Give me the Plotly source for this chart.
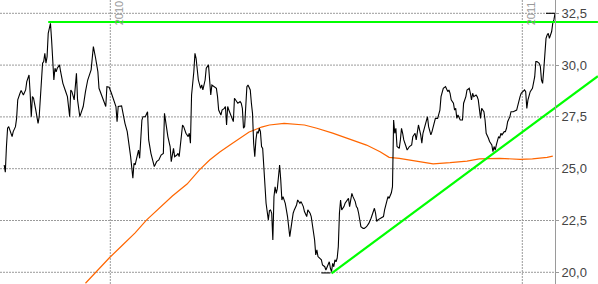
import plotly.graph_objects as go

# ---------------- data ----------------
price_dates = [
    "2009-09-29","2009-09-30","2009-10-01","2009-10-02","2009-10-03","2009-10-05","2009-10-06","2009-10-07",
    "2009-10-09","2009-10-10","2009-10-11","2009-10-13","2009-10-14","2009-10-16","2009-10-18","2009-10-19",
    "2009-10-21","2009-10-22","2009-10-23","2009-10-24","2009-10-25","2009-10-27","2009-10-28","2009-10-29",
    "2009-10-30","2009-10-31","2009-11-02","2009-11-03","2009-11-04","2009-11-05","2009-11-06","2009-11-07",
    "2009-11-08","2009-11-09","2009-11-10","2009-11-11","2009-11-12","2009-11-13","2009-11-14","2009-11-15",
    "2009-11-17","2009-11-18","2009-11-20","2009-11-22","2009-11-24","2009-11-26","2009-11-27","2009-11-28",
    "2009-11-30","2009-12-02","2009-12-03","2009-12-05","2009-12-06","2009-12-08","2009-12-10","2009-12-12",
    "2009-12-15","2009-12-16","2009-12-17","2009-12-19","2009-12-21","2009-12-22","2009-12-24","2009-12-26",
    "2009-12-28","2009-12-29","2009-12-31","2010-01-02","2010-01-04","2010-01-06","2010-01-07","2010-01-08",
    "2010-01-11","2010-01-12","2010-01-14","2010-01-16","2010-01-18","2010-01-19","2010-01-21","2010-01-22",
    "2010-01-23","2010-01-25","2010-01-26","2010-01-27","2010-01-29","2010-01-30","2010-02-01","2010-02-03",
    "2010-02-04","2010-02-06","2010-02-08","2010-02-09","2010-02-11","2010-02-13","2010-02-15","2010-02-17",
    "2010-02-18","2010-02-20","2010-02-21","2010-02-23","2010-02-24","2010-02-26","2010-02-27","2010-03-01",
    "2010-03-02","2010-03-03","2010-03-04","2010-03-06","2010-03-07","2010-03-09","2010-03-11","2010-03-12",
    "2010-03-13","2010-03-14","2010-03-16","2010-03-17","2010-03-18","2010-03-19","2010-03-20","2010-03-22",
    "2010-03-23","2010-03-24","2010-03-26","2010-03-27","2010-03-29","2010-03-30","2010-03-31","2010-04-01",
    "2010-04-03","2010-04-05","2010-04-06","2010-04-07","2010-04-09","2010-04-10","2010-04-12","2010-04-13",
    "2010-04-14","2010-04-15","2010-04-16","2010-04-18","2010-04-19","2010-04-20","2010-04-21","2010-04-23",
    "2010-04-24","2010-04-26","2010-04-27","2010-04-28","2010-04-29","2010-04-30","2010-05-01","2010-05-02",
    "2010-05-03","2010-05-05","2010-05-06","2010-05-07","2010-05-08","2010-05-09","2010-05-10","2010-05-11",
    "2010-05-12","2010-05-13","2010-05-14","2010-05-15","2010-05-16","2010-05-17","2010-05-18","2010-05-19",
    "2010-05-21","2010-05-22","2010-05-23","2010-05-24","2010-05-25","2010-05-26","2010-05-27","2010-05-28",
    "2010-05-29","2010-05-30","2010-05-31","2010-06-01","2010-06-02","2010-06-03","2010-06-05","2010-06-06",
    "2010-06-07","2010-06-09","2010-06-10","2010-06-11","2010-06-12","2010-06-13","2010-06-15","2010-06-16",
    "2010-06-18","2010-06-19","2010-06-21","2010-06-22","2010-06-24","2010-06-25","2010-06-27","2010-06-28",
    "2010-06-30","2010-07-01","2010-07-02","2010-07-03","2010-07-04","2010-07-06","2010-07-07","2010-07-08",
    "2010-07-10","2010-07-11","2010-07-12","2010-07-14","2010-07-15","2010-07-16","2010-07-17","2010-07-18",
    "2010-07-19","2010-07-20","2010-07-21","2010-07-22","2010-07-23","2010-07-24","2010-07-25","2010-07-26",
    "2010-07-27","2010-07-28","2010-07-30","2010-07-31","2010-08-01","2010-08-02","2010-08-03","2010-08-04",
    "2010-08-06","2010-08-07","2010-08-08","2010-08-09","2010-08-10","2010-08-11","2010-08-13","2010-08-14",
    "2010-08-16","2010-08-18","2010-08-20","2010-08-22","2010-08-23","2010-08-24","2010-08-25","2010-08-26",
    "2010-08-29","2010-08-31","2010-09-01","2010-09-03","2010-09-04","2010-09-05","2010-09-07","2010-09-08",
    "2010-09-09","2010-09-10","2010-09-11","2010-09-12","2010-09-14","2010-09-15","2010-09-16","2010-09-17",
    "2010-09-18","2010-09-20","2010-09-21","2010-09-23","2010-09-25","2010-09-26","2010-09-28","2010-09-29",
    "2010-09-30","2010-10-01","2010-10-03","2010-10-04","2010-10-05","2010-10-07","2010-10-08","2010-10-09",
    "2010-10-10","2010-10-12","2010-10-13","2010-10-15","2010-10-16","2010-10-18","2010-10-19","2010-10-20",
    "2010-10-21","2010-10-23","2010-10-25","2010-10-27","2010-10-28","2010-10-29","2010-10-30","2010-11-01",
    "2010-11-02","2010-11-03","2010-11-04","2010-11-05","2010-11-07","2010-11-09","2010-11-10","2010-11-12",
    "2010-11-13","2010-11-15","2010-11-16","2010-11-17","2010-11-18","2010-11-19","2010-11-21","2010-11-22",
    "2010-11-23","2010-11-24","2010-11-25","2010-11-26","2010-11-28","2010-11-29","2010-11-30","2010-12-02",
    "2010-12-03","2010-12-05","2010-12-06","2010-12-07","2010-12-08","2010-12-09","2010-12-11","2010-12-12",
    "2010-12-13","2010-12-14","2010-12-16","2010-12-17","2010-12-18","2010-12-19","2010-12-21","2010-12-22",
    "2010-12-24","2010-12-27","2010-12-28","2010-12-30","2010-12-31","2011-01-02","2011-01-03","2011-01-04",
    "2011-01-05","2011-01-06","2011-01-07","2011-01-08","2011-01-10","2011-01-11","2011-01-12","2011-01-13",
    "2011-01-14","2011-01-16","2011-01-17","2011-01-18","2011-01-19","2011-01-20","2011-01-21","2011-01-22",
    "2011-01-23","2011-01-24","2011-01-25","2011-01-26","2011-01-27","2011-01-28","2011-01-29","2011-01-30",
]
price_values = [
    25.18,24.83,26.07,26.95,27.03,26.71,26.55,26.79,
    27.03,27.43,28.32,28.64,28.77,28.56,28.80,29.20,
    29.52,28.64,27.51,28.48,28.40,27.83,27.35,27.19,
    27.51,28.48,30.09,30.17,30.57,30.09,30.41,31.53,
    31.86,32.02,31.21,29.93,29.28,29.85,29.68,29.85,
    30.01,29.68,29.12,28.80,28.48,27.51,28.80,28.72,
    28.32,29.60,28.32,27.51,27.67,28.00,28.72,29.28,
    29.77,30.25,30.89,30.33,29.68,28.88,28.56,28.32,
    28.00,28.96,28.93,28.64,28.32,28.00,27.27,28.00,
    28.03,27.67,27.19,26.79,26.07,25.58,24.54,25.26,
    25.18,25.66,25.90,25.50,27.35,27.51,27.51,27.75,
    26.39,25.74,25.26,25.10,25.34,25.42,25.66,25.74,
    27.67,26.87,26.55,26.07,25.34,25.98,25.58,25.66,
    25.74,25.58,26.23,27.11,27.03,26.71,26.55,26.71,
    26.23,28.56,29.68,30.57,30.33,29.68,29.28,28.88,
    29.04,28.80,29.28,29.85,30.01,29.28,28.56,29.04,
    28.96,28.88,28.48,27.83,27.59,27.83,27.91,28.00,
    27.11,28.00,27.83,27.59,27.43,27.27,28.40,28.24,
    28.16,28.24,28.16,27.91,26.95,27.03,28.32,28.96,
    29.04,28.80,28.16,27.67,26.23,25.58,26.39,26.79,
    26.71,26.95,26.79,26.07,25.98,25.18,23.97,23.33,
    22.53,22.98,23.01,22.85,21.56,23.65,24.13,23.81,
    24.05,24.54,25.18,24.46,23.49,23.65,23.33,23.01,
    22.69,21.72,22.20,22.53,22.85,23.01,23.25,23.49,
    23.33,23.41,23.17,22.93,22.69,23.01,22.85,22.69,
    22.04,21.56,20.84,21.08,20.76,20.68,20.60,20.35,
    20.27,20.11,20.27,20.51,20.19,20.03,20.43,20.27,
    20.60,20.51,20.68,21.24,22.85,23.49,23.01,23.09,
    23.17,23.33,23.49,23.57,23.17,23.49,23.81,23.65,
    23.41,23.17,23.09,22.85,22.45,22.20,22.12,22.12,
    22.20,22.36,22.61,23.01,23.09,22.85,22.45,22.53,
    22.61,22.69,23.01,23.49,23.65,23.57,23.84,24.13,
    27.35,26.71,26.95,26.07,25.98,26.39,26.95,26.71,
    26.39,26.07,25.90,26.07,26.15,26.55,26.71,26.39,
    26.87,27.11,26.63,26.23,26.71,27.19,27.35,27.51,
    27.03,26.63,26.79,27.19,27.43,27.43,27.59,27.83,
    28.48,28.88,28.96,28.72,28.80,28.64,28.32,28.16,
    27.83,27.91,27.43,27.59,27.35,27.35,28.16,28.48,
    28.80,28.88,28.64,28.32,28.64,28.48,28.56,28.48,
    28.32,27.83,27.43,27.91,27.75,27.35,26.71,26.47,
    26.31,26.15,25.82,26.07,25.90,26.15,26.55,26.47,
    26.71,26.63,26.79,26.79,26.95,27.27,27.51,27.75,
    27.75,27.83,28.08,28.48,28.64,28.72,28.80,28.72,
    27.91,28.32,28.48,28.72,28.88,29.12,29.44,30.17,
    30.17,30.09,29.93,29.28,29.12,29.77,30.65,31.29,
    31.45,31.53,31.29,31.45,31.62,32.02,32.18,32.50,
]

ma_dates = [
    "2009-12-10","2009-12-21","2009-12-31","2010-01-11","2010-01-23","2010-02-02","2010-02-14","2010-02-25",
    "2010-03-10","2010-03-21","2010-03-30","2010-04-08","2010-04-17","2010-04-26","2010-05-04","2010-05-15",
    "2010-05-22","2010-06-04","2010-06-22","2010-07-03","2010-07-17","2010-08-01","2010-08-16","2010-08-28",
    "2010-09-05","2010-09-14","2010-09-23","2010-10-02","2010-10-14","2010-10-29","2010-11-13","2010-11-24",
    "2010-12-12","2010-12-30","2011-01-10","2011-01-23","2011-01-28",
]
ma_values = [
    19.47,20.11,20.69,21.27,21.90,22.52,23.10,23.68,
    24.26,24.94,25.42,25.81,26.14,26.48,26.77,27.01,
    27.11,27.19,27.11,26.95,26.72,26.43,26.14,25.82,
    25.55,25.50,25.42,25.31,25.23,25.29,25.37,25.47,
    25.50,25.45,25.47,25.55,25.61,
]

# green trend lines (resistance and support)
resistance_dates = ["2009-11-07", "2011-03-09"]
resistance_values = [32.08, 32.08]
support_dates = ["2010-07-16", "2011-03-09"]
support_values = [19.95, 29.47]

# small horizontal markers at the extreme high / low
high_mark_dates = ["2011-01-22", "2011-01-31"]
high_mark_values = [32.5, 32.5]
low_mark_dates = ["2010-07-07", "2010-07-15"]
low_mark_values = [19.97, 19.97]

y_ticks = [20.0, 22.5, 25.0, 27.5, 30.0, 32.5]
y_tick_labels = ["20,0", "22,5", "25,0", "27,5", "30,0", "32,5"]
year_lines = ["2010-01-01", "2011-01-01"]
year_labels = ["2010", "2011"]

# ---------------- figure ----------------
W, H = 598, 284
AXIS_X = 555 / W
GRID = "#9a9a9a"

fig = go.Figure()
fig.add_trace(go.Scatter(x=ma_dates, y=ma_values, mode="lines",
                         line=dict(color="#ff6600", width=1.2), hoverinfo="skip"))
fig.add_trace(go.Scatter(x=price_dates, y=price_values, mode="lines",
                         line=dict(color="#000000", width=1.1), hoverinfo="skip"))
fig.add_trace(go.Scatter(x=high_mark_dates, y=high_mark_values, mode="lines",
                         line=dict(color="#000000", width=1.1), hoverinfo="skip"))
fig.add_trace(go.Scatter(x=low_mark_dates, y=low_mark_values, mode="lines",
                         line=dict(color="#000000", width=1.1), hoverinfo="skip"))
fig.add_trace(go.Scatter(x=resistance_dates, y=resistance_values, mode="lines",
                         line=dict(color="#00ff00", width=2.2), hoverinfo="skip"))
fig.add_trace(go.Scatter(x=support_dates, y=support_values, mode="lines",
                         line=dict(color="#00ff00", width=2.2), hoverinfo="skip"))

shapes = []
for v in y_ticks:
    shapes.append(dict(type="line", xref="paper", yref="y", x0=0, x1=AXIS_X, y0=v, y1=v,
                       line=dict(color=GRID, width=1, dash="2px,1px"), layer="below"))
for d in year_lines:
    shapes.append(dict(type="line", xref="x", yref="paper", x0=d, x1=d, y0=0, y1=1,
                       line=dict(color=GRID, width=1, dash="2px,1px"), layer="below"))

annotations = []
for d, t in zip(year_lines, year_labels):
    annotations.append(dict(x=d, y=1, xref="x", yref="paper", text=t, textangle=-90,
                            showarrow=False, xanchor="left", yanchor="top", xshift=1, yshift=1,
                            font=dict(family="Arial, Liberation Sans, sans-serif", size=11, color="#9a9a9a")))

fig.update_layout(
    width=W, height=H,
    margin=dict(l=0, r=0, t=0, b=0),
    paper_bgcolor="white", plot_bgcolor="white",
    showlegend=False, hovermode=False,
    shapes=shapes, annotations=annotations,
    xaxis=dict(type="date", range=["2009-09-25 06:50", "2011-03-09 01:30"],
               visible=False, fixedrange=True),
    yaxis=dict(range=[19.435, 33.142], anchor="free", position=AXIS_X, side="right",
               showgrid=False, zeroline=False, showline=True, linecolor="#9a9a9a", linewidth=1,
               ticks="outside", ticklen=3, tickcolor="#9a9a9a",
               tickvals=y_ticks, ticktext=y_tick_labels,
               tickfont=dict(family="Arial, Liberation Sans, sans-serif", size=13, color="#444444"),
               fixedrange=True),
)

fig.write_html("out.html")
